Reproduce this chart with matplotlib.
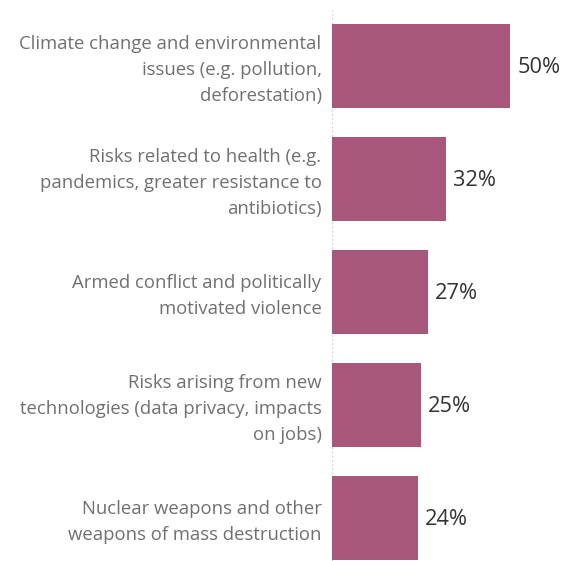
import matplotlib
matplotlib.use("Agg")
import matplotlib.pyplot as plt

categories = [
    "Climate change and environmental\nissues (e.g. pollution,\ndeforestation)",
    "Risks related to health (e.g.\npandemics, greater resistance to\nantibiotics)",
    "Armed conflict and politically\nmotivated violence",
    "Risks arising from new\ntechnologies (data privacy, impacts\non jobs)",
    "Nuclear weapons and other\nweapons of mass destruction",
]
values = [50, 32, 27, 25, 24]
value_labels = ["50%", "32%", "27%", "25%", "24%"]

W, H = 568, 561
fig = plt.figure(figsize=(W / 100, H / 100), dpi=100)
left_px, right_px, top_px, bottom_px = 332, 564, 10, 561
ax = fig.add_axes([left_px / W, 1 - bottom_px / H, (right_px - left_px) / W, (bottom_px - top_px) / H])

ypos = list(range(len(categories)))
ax.barh(ypos, values, height=0.752, color="#A6577A", edgecolor="none", zorder=2)
ax.set_xlim(0, 65)
ax.set_ylim((561 - 66) / 113.0, (10 - 66) / 113.0)

ax.axvline(0, color="#c8c8c8", linestyle=(0, (1, 2)), linewidth=1, zorder=1)

for y, v, lab in zip(ypos, values, value_labels):
    ax.annotate(lab, xy=(v, y), xytext=(5, -1), textcoords="offset points",
                va="center", ha="left", fontsize=15.7, color="#333333", family="Open Sans")

for y, c in zip(ypos, categories):
    ax.annotate(c, xy=(0, y), xytext=(-7.5, -3), textcoords="offset points",
                va="center", ha="right", fontsize=13.3, color="#707070", family="Open Sans",
                linespacing=1.55, annotation_clip=False)

ax.set_xticks([])
ax.set_yticks([])
for s in ax.spines.values():
    s.set_visible(False)

fig.savefig("out.png", dpi=100)
